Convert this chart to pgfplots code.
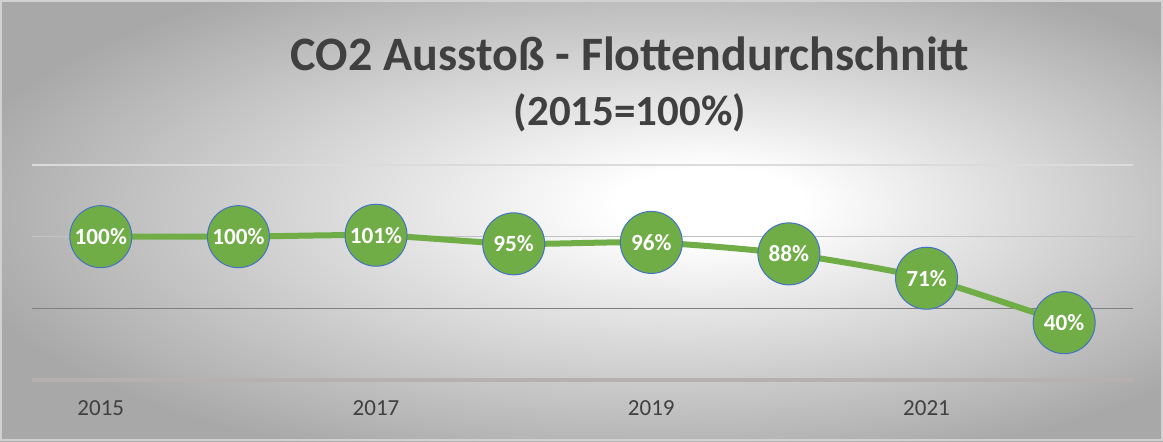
\documentclass[border=0pt]{standalone}
\usepackage{pgfplots}
\pgfplotsset{compat=1.18}
\usepackage{fontspec}
\setmainfont{Carlito}
\definecolor{lgreen}{HTML}{70AD47}
\definecolor{mblue}{HTML}{4472C4}
\definecolor{txt}{HTML}{404040}
\pgfdeclareradialshading{bgshade}{\pgfpoint{6bp}{2bp}}{color(0bp)=(white);color(4bp)=(white);color(30bp)=(black!34);color(50bp)=(black!34)}
\pgfkeys{/pgf/number format/assume math mode=true}
\begin{document}
\begin{tikzpicture}
\shade[shading=bgshade] (0,0) rectangle (581.5pt,220.5pt);
\draw[black!18, line width=1.2pt] (0.6pt,0.6pt) rectangle (580.9pt,219.9pt);
\node[text=txt, font=\fontsize{24}{28}\selectfont\bfseries] at (315pt,193.5pt) {CO2 Ausstoß - Flottendurchschnitt};
\node[text=txt, font=\fontsize{21.5}{25}\selectfont\bfseries] at (315pt,164pt) {(2015=100\%)};
\begin{axis}[
    at={(16pt,30.5pt)}, anchor=south west,
    scale only axis, width=550.5pt, height=107.5pt,
    xmin=-0.5, xmax=7.5, ymin=0, ymax=150,
    axis line style={draw=none},
    ytick=\empty,
    xtick={0,2,4,6},
    xticklabels={2015,2017,2019,2021},
    major tick length=0pt,
    xticklabel style={font=\fontsize{11.5}{13}\selectfont, text=txt, yshift=-7pt},
    clip=false,
]
% Gitterlinien
\draw[black!14, line width=0.8pt] (axis cs:-0.5,150) -- (axis cs:7.5,150);
\draw[black!24, line width=0.8pt] (axis cs:-0.5,100) -- (axis cs:7.5,100);
\draw[black!50, line width=0.8pt] (axis cs:-0.5,50) -- (axis cs:7.5,50);
\draw[color={rgb,255:red,184;green,176;blue,176}, line width=2pt] (axis cs:-0.5,0) -- (axis cs:7.5,0);
\addplot[lgreen, line width=3pt, smooth, tension=0.4,
    mark=*, mark size=15.5pt,
    mark options={fill=lgreen, draw=mblue, line width=0.5pt},
    nodes near coords={\pgfmathprintnumber{\pgfplotspointmeta}\%},
    nodes near coords style={anchor=center, text=white, font=\fontsize{11.6}{13}\selectfont\bfseries},
] coordinates {
(0,100) (1,100) (2,101) (3,95) (4,96) (5,88) (6,71) (7,40)
};
\end{axis}
\end{tikzpicture}
\end{document}
